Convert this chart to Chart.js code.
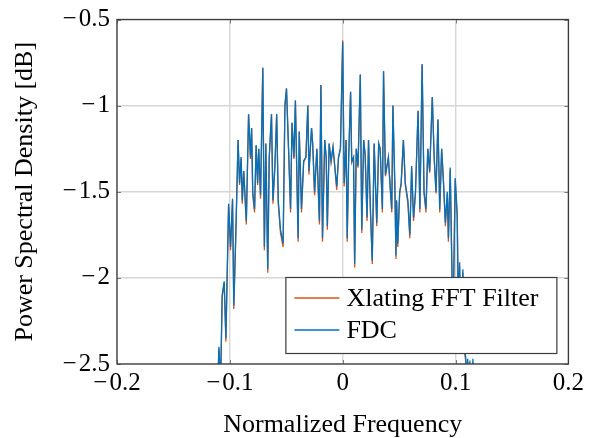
<!DOCTYPE html>
<html>
<head>
<meta charset="utf-8">
<script src="https://cdn.jsdelivr.net/npm/chart.js@4.4.1/dist/chart.umd.min.js"></script>
<style>
    html, body { margin: 0; padding: 0; background: #fff; }
    #wrap { width: 591px; height: 438px; position: relative; }
</style>
</head>
<body>
<div id="wrap"><canvas id="psdChart"></canvas></div>
<script>
// normalized frequency of each read sample
var freq = [
    -0.1125, -0.1110, -0.1097, -0.1082, -0.1068, -0.1050, -0.1035, -0.1011, -0.0994, -0.0976,
    -0.0965, -0.0947, -0.0927, -0.0914, -0.0900, -0.0890, -0.0877, -0.0854, -0.0834, -0.0817,
    -0.0807, -0.0797, -0.0781, -0.0767, -0.0754, -0.0744, -0.0728, -0.0708, -0.0694, -0.0681,
    -0.0664, -0.0651, -0.0631, -0.0618, -0.0601, -0.0585, -0.0571, -0.0551, -0.0528, -0.0512,
    -0.0498, -0.0478, -0.0462, -0.0449, -0.0432, -0.0419, -0.0395, -0.0385, -0.0365, -0.0346,
    -0.0326, -0.0309, -0.0299, -0.0276, -0.0266, -0.0249, -0.0229, -0.0206, -0.0193, -0.0179,
    -0.0159, -0.0146, -0.0136, -0.0120, -0.0103, -0.0086, -0.0063, -0.0053, -0.0037, -0.0020,
    0.0000, 0.0013, 0.0030, 0.0040, 0.0053, 0.0070, 0.0080, 0.0096, 0.0106, 0.0120,
    0.0136, 0.0156, 0.0169, 0.0186, 0.0199, 0.0216, 0.0229, 0.0246, 0.0262, 0.0279,
    0.0302, 0.0319, 0.0332, 0.0352, 0.0362, 0.0379, 0.0405, 0.0419, 0.0435, 0.0445,
    0.0462, 0.0472, 0.0478, 0.0488, 0.0505, 0.0518, 0.0538, 0.0555, 0.0578, 0.0595,
    0.0611, 0.0628, 0.0645, 0.0668, 0.0684, 0.0704, 0.0721, 0.0738, 0.0754, 0.0771,
    0.0794, 0.0811, 0.0827, 0.0844, 0.0860, 0.0877, 0.0894, 0.0910, 0.0927, 0.0937,
    0.0953, 0.0977, 0.0997, 0.1015, 0.1025, 0.1036, 0.1048, 0.1065, 0.1077, 0.1090,
    0.1100, 0.1108, 0.1118, 0.1128, 0.1140, 0.1154, 0.1170
];

// PSD in dB, FDC
var fdc = [
    -3.10, -2.70, -2.40, -2.62, -2.10, -2.02, -2.35, -1.57, -1.82, -1.54,
    -2.16, -1.74, -1.20, -1.45, -1.30, -1.55, -1.38, -1.67, -1.05, -1.30,
    -1.13, -1.50, -1.60, -1.23, -1.45, -1.25, -1.52, -0.78, -1.82, -1.22,
    -1.95, -1.30, -1.05, -1.55, -1.35, -1.05, -1.55, -1.72, -1.80, -1.00,
    -0.90, -1.28, -1.60, -1.10, -1.30, -0.97, -1.77, -1.15, -1.60, -1.32,
    -1.30, -1.00, -1.38, -1.13, -1.22, -1.50, -1.25, -1.67, -0.88, -1.77,
    -1.20, -1.30, -1.70, -1.22, -1.32, -1.24, -1.40, -1.47, -1.30, -1.25,
    -0.63, -1.45, -1.20, -1.77, -1.30, -0.92, -1.32, -1.30, -1.92, -1.25,
    -1.35, -0.82, -1.72, -1.20, -1.28, -1.65, -1.20, -1.60, -1.90, -1.22,
    -1.68, -1.22, -1.25, -1.60, -0.80, -1.40, -1.30, -1.45, -1.60, -1.00,
    -1.45, -1.87, -1.55, -1.80, -1.50, -1.45, -1.20, -1.45, -1.55, -1.75,
    -1.35, -1.65, -1.50, -1.03, -1.60, -0.76, -1.50, -1.60, -1.25, -1.38,
    -0.95, -1.30, -1.50, -1.08, -1.60, -1.25, -1.45, -1.68, -1.50, -1.77,
    -1.36, -2.30, -1.42, -1.63, -2.20, -1.91, -2.30, -1.95, -2.40, -2.46,
    -2.60, -2.47, -2.70, -2.48, -2.90, -2.47, -3.00
];

// PSD in dB, Xlating FFT Filter (reaches a little lower at the dips)
var xlating = [
    -3.10, -2.72, -2.41, -2.64, -2.11, -2.03, -2.37, -1.58, -1.84, -1.55,
    -2.18, -1.75, -1.20, -1.46, -1.30, -1.57, -1.38, -1.69, -1.05, -1.31,
    -1.13, -1.52, -1.62, -1.23, -1.46, -1.25, -1.54, -0.78, -1.84, -1.22,
    -1.97, -1.31, -1.05, -1.57, -1.36, -1.05, -1.57, -1.74, -1.82, -1.00,
    -0.90, -1.29, -1.62, -1.10, -1.31, -0.97, -1.79, -1.15, -1.62, -1.33,
    -1.30, -1.00, -1.40, -1.13, -1.22, -1.52, -1.25, -1.69, -0.88, -1.79,
    -1.20, -1.31, -1.72, -1.22, -1.33, -1.24, -1.41, -1.49, -1.30, -1.25,
    -0.62, -1.47, -1.20, -1.79, -1.31, -0.92, -1.33, -1.30, -1.94, -1.25,
    -1.36, -0.82, -1.74, -1.20, -1.29, -1.67, -1.20, -1.62, -1.92, -1.22,
    -1.70, -1.22, -1.25, -1.62, -0.80, -1.41, -1.30, -1.46, -1.62, -1.00,
    -1.46, -1.89, -1.56, -1.82, -1.51, -1.46, -1.20, -1.46, -1.57, -1.77,
    -1.36, -1.67, -1.51, -1.03, -1.62, -0.76, -1.51, -1.62, -1.25, -1.39,
    -0.95, -1.31, -1.51, -1.08, -1.62, -1.25, -1.46, -1.70, -1.51, -1.79,
    -1.37, -2.32, -1.43, -1.65, -2.22, -1.93, -2.32, -1.97, -2.42, -2.48,
    -2.62, -2.49, -2.72, -2.50, -2.92, -2.49, -3.00
];

var seriesNames = ['Xlating FFT Filter', 'FDC'];
var seriesColors = ['#D95319', '#0072BD'];
var xTicks = [-0.2, -0.1, 0, 0.1, 0.2];
var yTicks = [-2.5, -2, -1.5, -1, -0.5];

function toPoints(ys) {
    var pts = [];
    for (var i = 0; i < freq.length; i++) {
        pts.push({ x: freq[i], y: ys[i] });
    }
    return pts;
}

function fmt(v) {
    var s = String(Math.round(v * 10) / 10);
    return s.replace('-', '\u2212\u200A');
}

var serif = "'Liberation Serif', 'Times New Roman', serif";

// frame, inner tick marks and the legend box inside the plot
var framePlugin = {
    id: 'frame',
    afterDatasetsDraw: function(chart) {
        var ctx = chart.ctx;
        var a = chart.chartArea;
        var xs = chart.scales.x, ys = chart.scales.y;
        ctx.save();
        ctx.strokeStyle = '#7a7a7a';
        ctx.lineWidth = 1;
        xs.ticks.forEach(function(t) {
            var px = Math.round(xs.getPixelForValue(t.value)) + 0.5;
            ctx.beginPath();
            ctx.moveTo(px, a.bottom); ctx.lineTo(px, a.bottom - 4);
            ctx.moveTo(px, a.top); ctx.lineTo(px, a.top + 4);
            ctx.stroke();
        });
        ys.ticks.forEach(function(t) {
            var py = Math.round(ys.getPixelForValue(t.value)) + 0.5;
            ctx.beginPath();
            ctx.moveTo(a.left, py); ctx.lineTo(a.left + 4, py);
            ctx.moveTo(a.right, py); ctx.lineTo(a.right - 4, py);
            ctx.stroke();
        });
        ctx.strokeStyle = '#3c3c3c';
        ctx.lineWidth = 1.3;
        ctx.strokeRect(a.left, a.top, a.right - a.left, a.bottom - a.top);

        // legend
        var bx = a.right - 283, by = a.bottom - 87, bw = 271, bh = 76;
        ctx.fillStyle = '#fff';
        ctx.fillRect(bx, by, bw, bh);
        ctx.strokeStyle = '#3c3c3c';
        ctx.lineWidth = 1.2;
        ctx.strokeRect(bx + 0.5, by + 0.5, bw, bh);
        ctx.font = '26px ' + serif;
        ctx.textBaseline = 'middle';
        ctx.fillStyle = '#000';
        chart.data.datasets.forEach(function(ds, i) {
            var ly = by + 21 + i * 32;
            ctx.strokeStyle = ds.borderColor;
            ctx.lineWidth = 1.3;
            ctx.beginPath();
            ctx.moveTo(bx + 9, ly); ctx.lineTo(bx + 54, ly);
            ctx.stroke();
            ctx.fillText(ds.label, bx + 61, ly + 1);
        });
        ctx.restore();
    }
};

document.addEventListener('DOMContentLoaded', function() {
    var ctx = document.getElementById('psdChart').getContext('2d');
    var psdChart = new Chart(ctx, {
        type: 'line',
        data: {
            datasets: [{
                label: seriesNames[0],
                data: toPoints(xlating),
                borderColor: seriesColors[0],
                borderWidth: 1.3,
                order: 2,
                clip: 0
            }, {
                label: seriesNames[1],
                data: toPoints(fdc),
                borderColor: seriesColors[1],
                borderWidth: 1.3,
                order: 1,
                clip: 0
            }]
        },
        options: {
            responsive: true,
            maintainAspectRatio: false,
            animation: false,
            layout: {
                padding: { top: 17, right: 19, left: 0, bottom: 0 }
            },
            scales: {
                x: {
                    type: 'linear',
                    min: -0.2,
                    max: 0.2,
                    afterBuildTicks: function(scale) {
                        scale.ticks = xTicks.map(function(v) { return { value: v }; });
                    },
                    afterFit: function(scale) { scale.height = 74; },
                    grid: { color: '#d6d6d6', lineWidth: 1.4, drawTicks: false },
                    border: { display: false },
                    ticks: {
                        padding: 7,
                        color: '#000',
                        font: { family: serif, size: 25, lineHeight: 1 },
                        maxRotation: 0,
                        autoSkip: false,
                        callback: function(v) { return fmt(v); }
                    },
                    title: {
                        display: true,
                        text: 'Normalized Frequency',
                        color: '#000',
                        font: { family: serif, size: 26, lineHeight: 1 },
                        padding: { top: 0, bottom: 0 }
                    }
                },
                y: {
                    min: -2.5,
                    max: -0.5,
                    afterBuildTicks: function(scale) {
                        scale.ticks = yTicks.map(function(v) { return { value: v }; });
                    },
                    afterFit: function(scale) { scale.width = 117; },
                    grid: { color: '#d6d6d6', lineWidth: 1.4, drawTicks: false },
                    border: { display: false },
                    ticks: {
                        padding: 7,
                        color: '#000',
                        font: { family: serif, size: 25, lineHeight: 1 },
                        autoSkip: false,
                        callback: function(v) { return fmt(v); }
                    },
                    title: {
                        display: true,
                        text: 'Power Spectral Density [dB]',
                        color: '#000',
                        font: { family: serif, size: 26, lineHeight: 1 },
                        padding: { top: 12, bottom: 0 }
                    }
                }
            },
            elements: {
                line: { tension: 0 },
                point: { radius: 0 }
            },
            plugins: {
                legend: { display: false },
                tooltip: { enabled: false }
            }
        },
        plugins: [framePlugin]
    });
});
</script>
</body>
</html>
